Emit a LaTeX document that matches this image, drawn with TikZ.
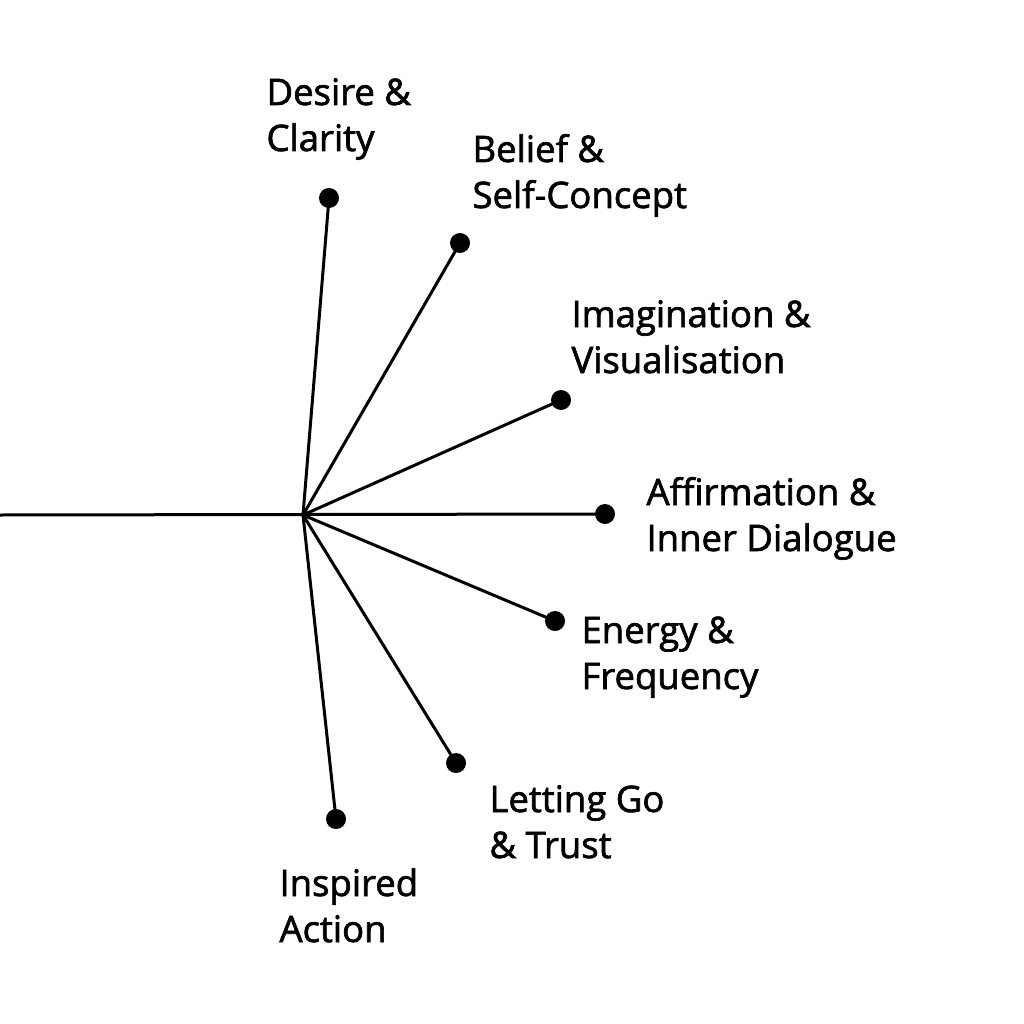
\documentclass[tikz,border=0pt]{standalone}
\usepackage{fontspec}
\setmainfont[Ligatures=NoCommon,FakeBold=1.8]{Open Sans}
\begin{document}
\begin{tikzpicture}[x=1pt,y=-1pt,line width=3pt,
    dot/.style={circle,fill=black,inner sep=0pt,minimum size=20pt},
    lbl/.style={anchor=base west,align=left,inner sep=0pt,font=\fontsize{36.5}{46}\selectfont}]
    \useasboundingbox (0,0) rectangle (1024,1024);
    \coordinate (o) at (303,515);
    \coordinate (w) at (0,515);
    \node [dot] (d1) at (329,198) {};
    \node [dot] (d2) at (460,243) {};
    \node [dot] (d3) at (561,400) {};
    \node [dot] (d4) at (605,514) {};
    \node [dot] (d5) at (555,621) {};
    \node [dot] (d6) at (456,763) {};
    \node [dot] (d7) at (336,819) {};
    \draw (w) -- (d4.center);
    \draw (o) -- (d1.center);
    \draw (o) -- (d2.center);
    \draw (o) -- (d3.center);
    \draw (o) -- (d5.center);
    \draw (o) -- (d6.center);
    \draw (o) -- (d7.center);
    % labels: anchor is the baseline of the last line
    \node [lbl] (t1) at (265,151) {Desire \&\\Clarity};
    \node [lbl] (t2) at (471,208) {Belief \&\\Self-Concept};
    \node [lbl] (t3) at (570,373) {Imagination \&\\Visualisation};
    \node [lbl] (t4) at (645,551) {Affirmation \&\\Inner Dialogue};
    \node [lbl] (t5) at (580,689) {Energy \&\\Frequency};
    \node [lbl] (t6) at (488,858) {Letting Go\\\& Trust};
    \node [lbl] (t7) at (278,942) {Inspired\\Action};
  \end{tikzpicture}
\end{document}
